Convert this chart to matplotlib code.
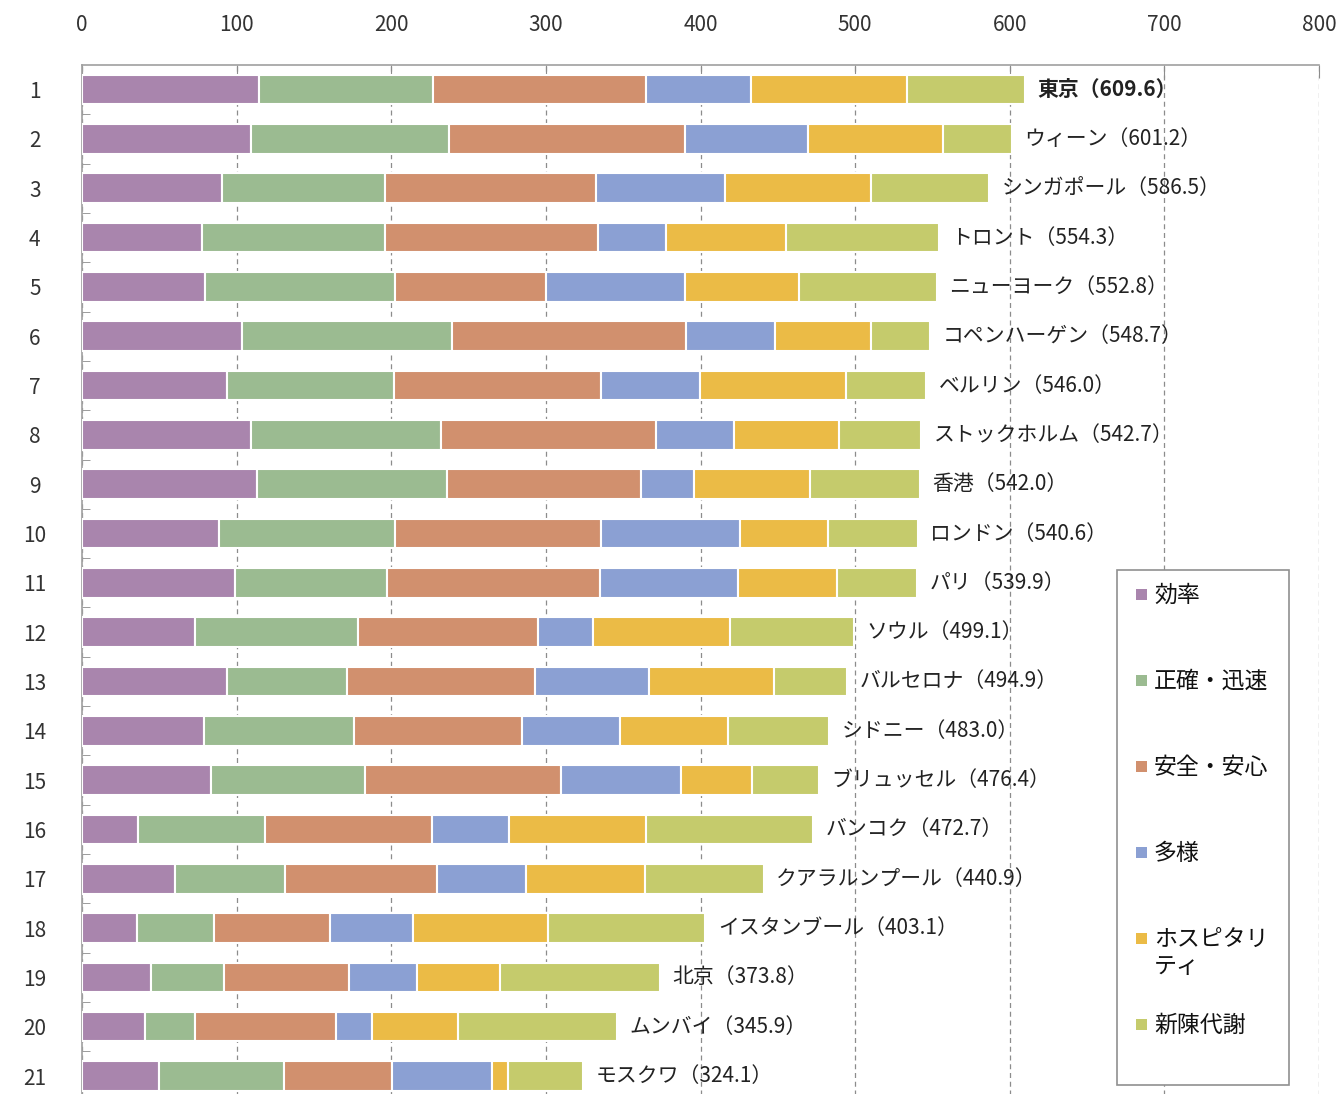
import numpy as np
import matplotlib
matplotlib.use("Agg")
import matplotlib.pyplot as plt
from matplotlib.patches import Rectangle

plt.rcParams['font.family'] = ['Noto Sans CJK JP', 'DejaVu Sans']

cities = ['東京', 'ウィーン', 'シンガポール', 'トロント', 'ニューヨーク', 'コペンハーゲン',
          'ベルリン', 'ストックホルム', '香港', 'ロンドン', 'パリ', 'ソウル', 'バルセロナ',
          'シドニー', 'ブリュッセル', 'バンコク', 'クアラルンプール', 'イスタンブール',
          '北京', 'ムンバイ', 'モスクワ']
totals = [609.6, 601.2, 586.5, 554.3, 552.8, 548.7, 546.0, 542.7, 542.0, 540.6, 539.9,
          499.1, 494.9, 483.0, 476.4, 472.7, 440.9, 403.1, 373.8, 345.9, 324.1]

series_names = ['効率', '正確・迅速', '安全・安心', '多様', 'ホスピタリティ', '新陳代謝']
legend_labels = ['効率', '正確・迅速', '安全・安心', '多様', 'ホスピタリ\nティ', '新陳代謝']
colors = ['#A985AD', '#9BBB91', '#D1906E', '#8BA0D3', '#EBBB46', '#C5CB6C']

efficiency = [114.6, 109.2, 90.6, 77.7, 79.4, 103.6, 93.5, 109.2, 112.9, 88.7, 99.0,
              72.9, 93.5, 78.6, 83.5, 36.5, 60.0, 35.6, 44.9, 41.0, 49.6]
accuracy = [112.2, 127.9, 105.5, 118.4, 123.2, 135.5, 108.0, 123.2, 123.3, 113.9, 98.2,
            105.5, 77.6, 97.3, 99.7, 81.9, 71.0, 49.6, 46.8, 31.9, 81.1]
safety = [137.9, 152.8, 136.6, 137.7, 97.6, 151.8, 134.4, 138.9, 125.6, 133.3, 137.7,
          116.3, 122.1, 108.7, 126.4, 107.7, 98.6, 75.5, 81.1, 91.5, 69.7]
diversity = [68.1, 79.4, 83.1, 44.0, 89.9, 57.6, 63.9, 50.3, 33.7, 89.6, 89.5,
             35.6, 73.8, 63.4, 77.5, 50.1, 57.8, 53.1, 43.6, 23.1, 64.6]
hospitality = [100.8, 87.6, 94.2, 77.2, 73.6, 62.0, 94.5, 68.2, 75.0, 56.9, 63.9,
               88.5, 80.7, 69.9, 45.9, 88.6, 76.6, 87.6, 54.1, 55.5, 10.3]
metabolism = [76.0, 44.3, 76.5, 99.3, 89.1, 38.2, 51.7, 52.9, 71.5, 58.2, 51.6,
              80.3, 47.2, 65.1, 43.4, 107.9, 76.9, 101.7, 103.3, 102.9, 48.8]

series = [efficiency, accuracy, safety, diversity, hospitality, metabolism]

W, H = 1340, 1094
fig = plt.figure(figsize=(W / 100, H / 100), dpi=100)
# plot box: left 82px, right 1319px, top 65px; bottom runs off the picture
ax = fig.add_axes([82 / W, -0.0061, (1319 - 82) / W, 0.9467])

rows = np.arange(1, len(cities) + 1)
left = np.zeros(len(cities))
for vals, name, c in zip(series, series_names, colors):
    ax.barh(rows, vals, left=left, height=0.6, color=c, edgecolor='white',
            linewidth=1.5, label=name, zorder=3)
    left += np.array(vals)

for i, (city, tot) in enumerate(zip(cities, totals)):
    ax.annotate(f'{city}（{tot:.1f}）', xy=(tot, rows[i]), xytext=(9, 0),
                textcoords='offset points', va='center', ha='left',
                fontsize=15, color='#222222',
                fontweight='bold' if i == 0 else 'normal', zorder=4)

ax.set_xlim(0, 800)
ax.set_ylim(21.5, 0.5)
ax.set_xticks(np.arange(0, 801, 100))
ax.xaxis.tick_top()
ax.tick_params(axis='x', which='major', direction='in', length=9, color='#8c8c8c',
               pad=21, labelsize=15, labelcolor='#333333')
ax.set_yticks(rows)
ax.set_yticklabels([str(r) for r in rows])
ax.set_yticks(rows[:-1] + 0.5, minor=True)
ax.tick_params(axis='y', which='major', length=0, pad=34, labelsize=15,
               labelcolor='#333333')
for lbl in ax.get_yticklabels():
    lbl.set_horizontalalignment('center')
ax.tick_params(axis='y', which='minor', direction='in', length=6, color='#8c8c8c')
ax.grid(axis='x', linestyle=(0, (4, 3)), color='#8c8c8c', linewidth=0.9, zorder=0)
ax.set_axisbelow(True)

for s in ['right', 'bottom']:
    ax.spines[s].set_visible(False)
for s in ['top', 'left']:
    ax.spines[s].set_color('#a0a0a0')
    ax.spines[s].set_linewidth(1.2)

# legend box drawn by hand to mirror the original layout
fig.patches.append(Rectangle((1117 / W, 1 - 1085 / H), 172 / W, 515 / H,
                             transform=fig.transFigure, facecolor='white',
                             edgecolor='#909090', linewidth=1.2, zorder=5))
for i, (lab, c) in enumerate(zip(legend_labels, colors)):
    yc = 594 + 86 * i
    fig.patches.append(Rectangle((1136 / W, 1 - (yc + 6) / H), 11 / W, 11 / H,
                                 transform=fig.transFigure, facecolor=c,
                                 edgecolor='none', zorder=6))
    fig.text(1154 / W, 1 - (yc - 10) / H, lab, fontsize=16.5, va='top', ha='left',
             color='#111111', zorder=7, linespacing=1.2)

fig.savefig('out.png', dpi=100)
